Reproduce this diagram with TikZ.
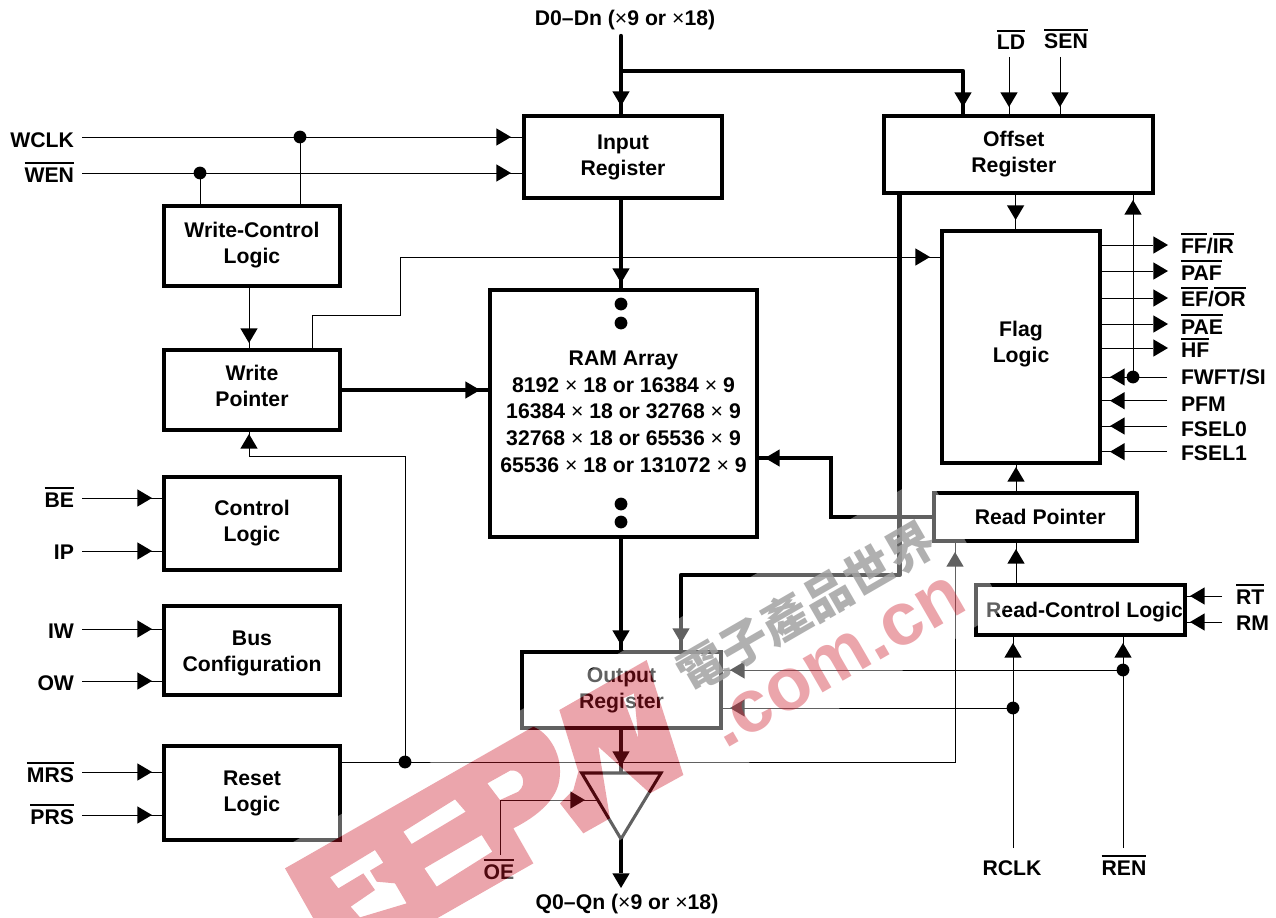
\documentclass[tikz,border=0pt]{standalone}
\usepackage{fontspec}
\setmainfont{Liberation Sans}
\newfontfamily\wmcjk{Noto Sans CJK TC}
\usetikzlibrary{arrows.meta,decorations.markings,calc}
\newcommand\barred[1]{\leavevmode\setbox0\hbox{#1}\rlap{\raisebox{13.5pt}{\rule{\wd0}{1.5pt}}}\box0}
\newcommand\tms{{\mdseries ×}}
\newcommand\lastpad[1]{\rule[-#1]{0pt}{0pt}}
\newcommand\firstpad[1]{\rule{0pt}{#1}}
\definecolor{wmpink}{rgb}{.8,.08,.15}
\newcommand\logopath{
  (15,685) -- (760,260) .. controls (810,280) and (850,350) .. (838,420)
    .. controls (830,480) and (770,530) .. (700,565) -- (760,670) -- (350,904) -- (145,915) -- cycle
  (370,575) -- (525,478) -- (557,515) -- (395,612) -- cycle
  (433,685) -- (605,585) -- (637,635) -- (470,740) -- cycle
  (622,430) -- (690,392) .. controls (725,385) and (745,430) .. (715,455) -- (660,480) -- cycle
  (150,712) -- (285,630) -- (310,668) -- (270,692) -- (290,725) -- (345,730) -- (380,790)
    -- (240,832) -- (212,800) -- (285,750) -- (250,700) -- (175,745) -- cycle
  (838,210) -- (1100,60) -- (1210,405) -- (1110,460) -- (955,320) -- (990,535) -- (910,580)
    -- (840,490) -- (880,450) -- (895,395) -- cycle
  (1030,175) -- (1075,295) -- (1062,160) -- cycle
}
\tikzset{
  Tri/.tip={Triangle[length=11pt,width=13pt,line width=0pt]},
  labelfont/.style={font=\fontsize{15.9}{19.5}\selectfont\bfseries},
  blockbox/.style 2 args={draw,line width=2.3pt,inner sep=0pt,outer sep=0pt,align=center,labelfont,
    minimum width={#1*0.75pt},minimum height={#2*0.75pt}},
  sig/.style={inner sep=0pt,outer sep=0pt,labelfont},
  jdot/.style={circle,fill=black,inner sep=0pt,minimum size=9.6pt},
  wire/.style={line width=.7pt},
  bus/.style={line width=3.3pt},
  headat/.style={postaction={decorate},decoration={markings,mark=at position {#1*0.75pt} with {\arrow{Tri}}}},
}
\begin{document}
\begin{tikzpicture}[x=0.75pt,y=-0.75pt]
\useasboundingbox (0,0) rectangle (1276,917);
% blocks
\node[blockbox={198}{82}] (input) at (623,157) {Input\\Register};
\node[blockbox={269}{77}] (offset) at (1018.5,154.5) {\hspace*{-7pt}Offset\\\hspace*{-7pt}Register};
\node[blockbox={176}{80}] (wctrl) at (252,246) {Write-Control\\Logic\lastpad{5.5pt}};
\node[blockbox={176}{80}] (wptr) at (252,390) {Write\\Pointer\lastpad{6pt}};
\node[blockbox={176}{93}] (ctrl) at (252,523.5) {Control\\Logic};
\node[blockbox={176}{89}] (buscfg) at (252,650.5) {\firstpad{14.8pt}Bus\\Configuration};
\node[blockbox={176}{94}] (reset) at (252,793) {Reset\\Logic};
\node[blockbox={267}{247},font=\fontsize{15.9}{20}\selectfont\bfseries] (ram) at (623.5,413.5) {RAM Array\\8192 \tms{} 18 or 16384 \tms{} 9\\16384 \tms{} 18 or 32768 \tms{} 9\\32768 \tms{} 18 or 65536 \tms{} 9\\65536 \tms{} 18 or 131072 \tms{} 9\lastpad{3pt}};
\node[blockbox={199}{76}] (output) at (621.5,690) {Output\\Register};
\node[blockbox={158}{232}] (flag) at (1021,347) {Flag\\Logic\lastpad{7.8pt}};
\node[blockbox={203}{48}] (rptr) at (1035.5,517) {\hspace*{7pt}Read Pointer};
\node[blockbox={209}{50}] (rctrl) at (1080.5,610) {\firstpad{14pt}\hspace*{6pt}Read-Control Logic};
% RAM dots
\node[jdot] (rd1) at (621,304) {};
\node[jdot] (rd2) at (621,323) {};
\node[jdot] (rd3) at (621,504) {};
\node[jdot] (rd4) at (621,522) {};
% output buffer
\coordinate (tria) at (581.7,773);
\coordinate (trib) at (661,773);
\coordinate (tric) at (621,839);
\draw[line width=2.3pt,miter limit=4] (tria) -- (trib) -- (tric) -- cycle;
% labels
\node[sig,anchor=base] (d0) at (625,26) {D0–Dn (\tms{}9 or \tms{}18)};
\node[sig,anchor=base] (q0) at (627,909) {Q0–Qn (\tms{}9 or \tms{}18)};
\node[sig,anchor=base] (ld) at (1011,50) {\barred{LD}};
\node[sig,anchor=base] (sen) at (1066,49) {\barred{SEN}};
\node[sig,anchor=base east] (wclk) at (74,147) {WCLK};
\node[sig,anchor=base east] (wen) at (74,182) {\barred{WEN}};
\node[sig,anchor=base east] (be) at (74,507) {\barred{BE}};
\node[sig,anchor=base east] (ip) at (74,559) {IP};
\node[sig,anchor=base east] (iw) at (74,638) {IW};
\node[sig,anchor=base east] (ow) at (74,690) {OW};
\node[sig,anchor=base east] (mrs) at (74,782) {\barred{MRS}};
\node[sig,anchor=base east] (prs) at (74,824) {\barred{PRS}};
\node[sig,anchor=base west] (ffir) at (1181,253) {\barred{FF}/\barred{IR}};
\node[sig,anchor=base west] (paf) at (1181,280) {\barred{PAF}};
\node[sig,anchor=base west] (efor) at (1181,306.7) {\barred{EF}/\barred{OR}};
\node[sig,anchor=base west] (pae) at (1181,334) {\barred{PAE}};
\node[sig,anchor=base west] (hf) at (1181,357.7) {\barred{HF}};
\node[sig,anchor=base west] (fwft) at (1181,384) {FWFT/SI};
\node[sig,anchor=base west] (pfm) at (1181,411.7) {PFM};
\node[sig,anchor=base west] (fsel0) at (1181,436.7) {FSEL0};
\node[sig,anchor=base west] (fsel1) at (1181,460.7) {FSEL1};
\node[sig,anchor=base west] (rt) at (1236,604) {\barred{RT}};
\node[sig,anchor=base west] (rm) at (1236,630) {RM};
\node[sig,anchor=base] (rclk) at (1012,875) {RCLK};
\node[sig,anchor=base] (ren) at (1124,875) {\barred{REN}};
\node[sig,anchor=base] (oe) at (499,879) {\barred{OE}};
% free ends and bends
\coordinate (dstart) at (621,36);
\coordinate (dsplit) at (621,71);
\coordinate (dbend) at (963,71);
\coordinate (ldstart) at (1009,57);
\coordinate (senstart) at (1060,57);
\coordinate (wclkin) at (82,137);
\coordinate (wenin) at (82,173);
\coordinate (rtin) at (1222,596);
\coordinate (rmin) at (1222,622);
\coordinate (rclkin) at (1013,848);
\coordinate (renin) at (1123,848);
\node[jdot] (jwclk) at (300,137) {};
\node[jdot] (jwen) at (200,173) {};
\node[jdot] (jfwft) at (1133,377) {};
\node[jdot] (jrclk) at (1013,708) {};
\node[jdot] (jren) at (1123,670) {};
\node[jdot] (jrst) at (405,762) {};
% buses
\draw[bus,line cap=round] (dstart) -- (dsplit);
\draw[bus,headat=-10] (dsplit) -- (dsplit |- input.north);
\draw[bus,headat=-9,line join=round] (dsplit) -- (dbend) -- (dbend |- offset.north);
\draw[bus,headat=-7] (dsplit |- input.south) -- (dsplit |- ram.north);
\draw[bus,headat=-10] (wptr.east) -- (wptr.east -| ram.west);
\draw[bus,headat=-9,line join=round] (899.5,193) coordinate (obus) -- (obus |- 0,575) -- (681,575) coordinate (obend) -- (obend |- output.north);
\draw[bus,headat=-8] (rptr.west) -- (831,517) coordinate (rb1) -- (831,458) coordinate (rb2) -- (rb2 -| ram.east);
\draw[bus,headat=-7] (dsplit |- ram.south) -- (dsplit |- output.north);
\draw[bus,headat=-7] (dsplit |- output.south) -- (dsplit |- tria);
\draw[bus,-{Tri}] (tric) -- (tric |- 0,888);
% thin wires, top and left
\draw[wire,headat=-9] (ldstart) -- (ldstart |- offset.north);
\draw[wire,headat=-9] (senstart) -- (senstart |- offset.north);
\draw[wire,headat=-13] (wclkin) -- (wclkin -| input.west);
\draw[wire,headat=-13] (wenin) -- (wenin -| input.west);
\draw[wire] (jwclk.center) -- (jwclk |- wctrl.north);
\draw[wire] (jwen.center) -- (jwen |- wctrl.north);
\draw[wire,headat=-7] (249,286) coordinate (wc) -- (wc |- wptr.north);
\draw[wire,headat=-12] (312,350) coordinate (wa) -- (312,315) -- (400,315) -- (400,257) coordinate (wb) -- (wb -| flag.west);
\draw[wire,headat=-4] (jrst.center) -- (405,456) -- (249,456) coordinate (wd) -- (wd |- wptr.south);
\foreach \lab/\yy in {be/498,ip/551} \draw[wire,headat=-12] (82,\yy) -- (ctrl.west |- 0,\yy);
\foreach \lab/\yy in {iw/629,ow/681} \draw[wire,headat=-12] (82,\yy) -- (buscfg.west |- 0,\yy);
\foreach \lab/\yy in {mrs/772,prs/815} \draw[wire,headat=-12] (82,\yy) -- (reset.west |- 0,\yy);
\draw[wire] (reset.east |- jrst) -- (jrst.center);
\draw[wire,headat=-11] (jrst.center) -- (955,762) coordinate (re) -- (re |- rptr.south);
% flag
\draw[wire,headat=-11] (1015.6,193) coordinate (ofl) -- (ofl |- flag.north);
\draw[wire,headat=-7] (jfwft.center) -- (jfwft |- offset.south);
\foreach \yy in {245,271,298,324,348} \draw[wire,-{Tri}] (flag.east |- 0,\yy) -- (1168,\yy);
\draw[wire,headat=-10] (1167,377) -- (flag.east |- 0,377);
\foreach \yy in {400.7,426,451.7} \draw[wire,headat=-10] (1167,\yy) -- (flag.east |- 0,\yy);
\draw[wire,headat=-4] (1016,493) coordinate (rf) -- (rf |- flag.south);
\draw[wire,headat=-8] (1016,585) coordinate (rg) -- (rg |- rptr.south);
\draw[wire,headat=-5] (rtin) -- (rtin -| rctrl.east);
\draw[wire,headat=-5] (rmin) -- (rmin -| rctrl.east);
\draw[wire,headat=-8] (rclkin) -- (rclkin |- rctrl.south);
\draw[wire,headat=-8] (renin) -- (renin |- rctrl.south);
\draw[wire,headat=-9] (jrclk.center) -- (jrclk -| output.east);
\draw[wire,headat=-9] (jren.center) -- (jren -| output.east);
\draw[wire,headat=-12] (500,855) coordinate (oes) -- (500,800) -- (597,800) coordinate (oee);
% watermark: pale band, grey characters, pink lettering
\begin{scope}[shift={(280,640)},x=.25pt,y=-.25pt,even odd rule]
  \clip (-2000,-2000) rectangle (4000,2000) \logopath;
  \fill[white,opacity=.38] (1941,-496) -- (-390,855) -- (570,870) -- (2175,-93) -- cycle;
\end{scope}
\node[inner sep=0pt,rotate=30,text=black!36,text opacity=.85,font=\fontsize{36}{36}\selectfont\wmcjk\bfseries] (wmcn) at (806,607) {電子產品世界};
\node[inner sep=0pt,anchor=base west,rotate=30,text=wmpink,text opacity=.385,font=\fontsize{56}{56}\selectfont\bfseries] (wmcom) at (725,750) {.com.cn};
\begin{scope}[shift={(280,640)},x=.25pt,y=-.25pt]
  \fill[even odd rule,wmpink,opacity=.385] \logopath;
\end{scope}
\end{tikzpicture}
\end{document}
